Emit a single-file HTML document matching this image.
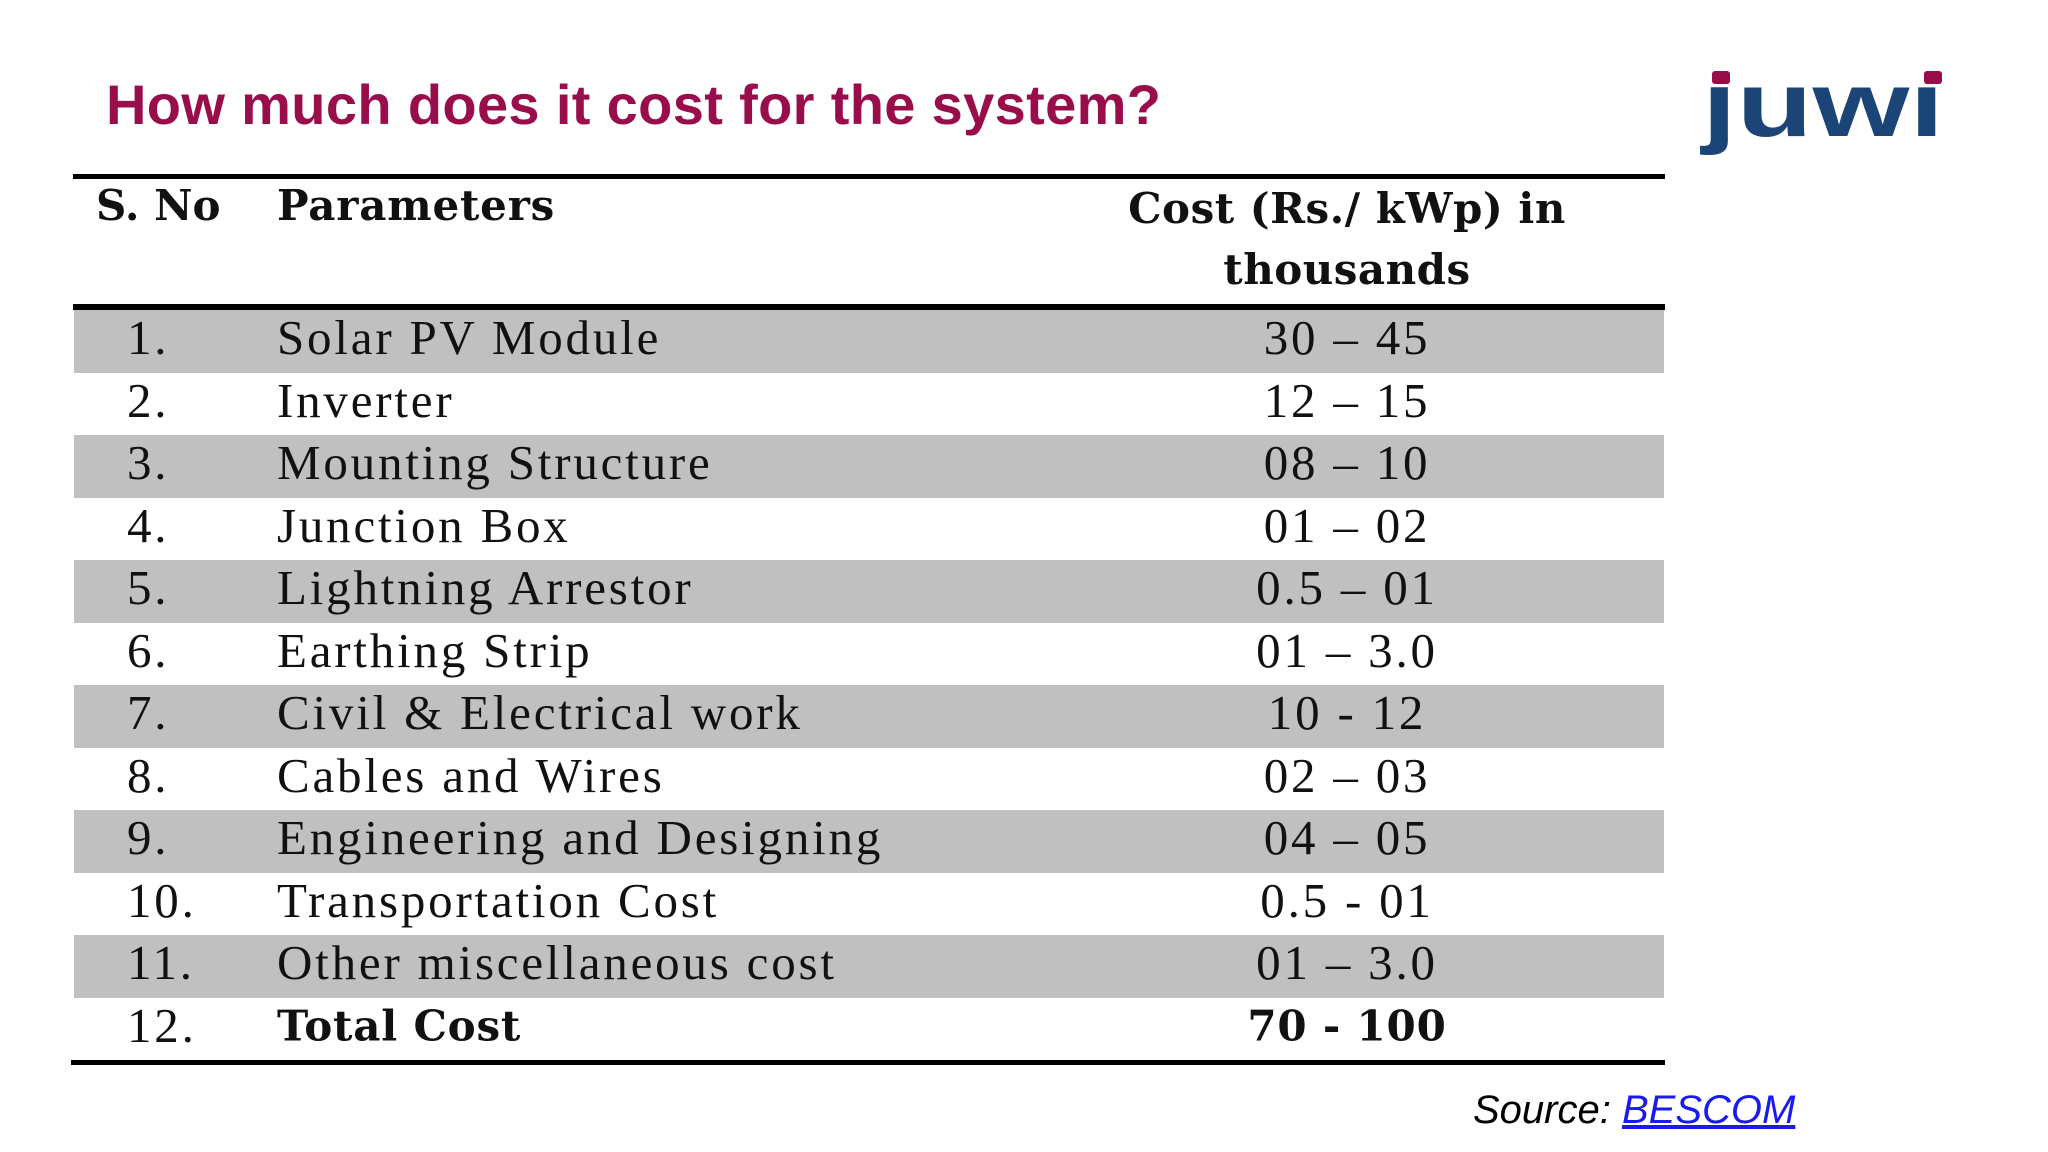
<!DOCTYPE html>
<html><head><meta charset="utf-8"><style>
body{margin:0;width:2048px;height:1152px;background:#fff;position:relative;overflow:hidden;font-family:"Liberation Sans",sans-serif}
.title{position:absolute;left:106px;top:72px;font-size:56px;font-weight:bold;color:#9a0d4b;white-space:nowrap;letter-spacing:0.35px}
.rule{position:absolute;left:73px;width:1592px;background:#000}
.row{position:absolute;left:74px;width:1590px;height:62.5px;font-family:"Liberation Serif",serif;font-size:49px;letter-spacing:2.8px;color:#111}
.row.g{background:#c0c0c0}
.row span{position:absolute;top:50%;transform:translateY(-56%);white-space:nowrap}
.n{left:53px}.p{left:203px}.c{left:1273px;transform:translate(-50%,-56%)!important}
.hd{position:absolute;font-family:"DejaVu Serif","Liberation Serif",serif;font-weight:bold;font-size:42px;color:#111;white-space:nowrap}
.src{position:absolute;left:1473px;top:1088px;font-size:40px;font-style:italic;color:#000}
.src a{color:#1a1aee;text-decoration:underline}
</style></head><body>
<div class="title">How much does it cost for the system?</div>
<svg style="position:absolute;left:0;top:0" width="2048" height="200">
<text x="1702" y="136" font-family="Liberation Sans,sans-serif" font-weight="bold" font-size="92" fill="#1b4577" textLength="242" lengthAdjust="spacingAndGlyphs">ȷuwı</text>
<rect x="1712" y="71" width="18" height="13" rx="3" fill="#9a0d4b"/>
<rect x="1924" y="71" width="18" height="13" rx="3" fill="#9a0d4b"/>
</svg>
<div class="rule" style="top:174px;height:5px"></div>
<div class="hd" style="left:96px;top:181px">S. No</div>
<div class="hd" style="left:277px;top:181px;letter-spacing:0.8px">Parameters</div>
<div class="hd" style="left:1347px;top:178px;transform:translateX(-50%);text-align:center;line-height:61px;letter-spacing:0.5px">Cost (Rs./ kWp) in<br>thousands</div>
<div class="rule" style="top:304px;height:6px"></div>
<div id="rows"></div>
<div class="rule" style="top:1060px;height:5px;left:71px;width:1594px"></div>
<div class="src">Source: <a>BESCOM</a></div>
<script>
const nums=["1.","2.","3.","4.","5.","6.","7.","8.","9.","10.","11.","12."];
const params=["Solar PV Module","Inverter","Mounting Structure","Junction Box","Lightning Arrestor","Earthing Strip","Civil &amp; Electrical work","Cables and Wires","Engineering and Designing","Transportation Cost","Other miscellaneous cost","Total Cost"];
const costs=["30 – 45","12 – 15","08 – 10","01 – 02","0.5 – 01","01 – 3.0","10 - 12","02 – 03","04 – 05","0.5 - 01","01 – 3.0","70 - 100"];
const box=document.getElementById('rows');
nums.forEach((n,i)=>{
  const r=document.createElement('div');
  r.className='row'+(i%2===0?' g':'');
  r.style.top=(310+i*62.5)+'px';
  
  
  const b=i===11?' style="font-family:DejaVu Serif,serif;font-weight:bold;font-size:42px;letter-spacing:0.8px"':'';
  r.innerHTML='<span class="n">'+n+'</span><span class="p"'+b+'>'+params[i]+'</span><span class="c"'+b+'>'+costs[i]+'</span>';
  box.appendChild(r);
});
</script>
</body></html>
